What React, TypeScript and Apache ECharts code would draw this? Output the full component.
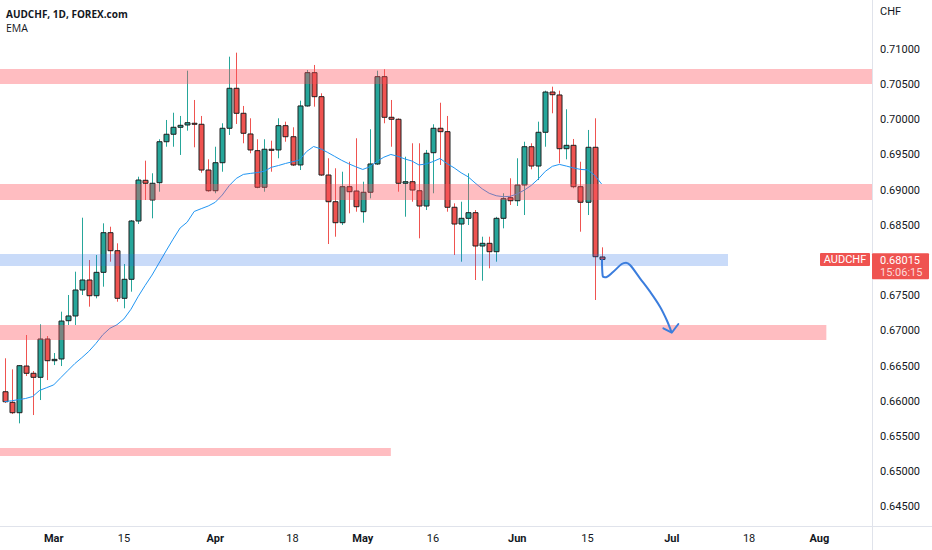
import React, { useEffect, useRef } from 'react';
import * as echarts from 'echarts';

// ---------- data ----------
const START_DATE = '2022-02-18';
const CATEGORY_COUNT = 124;

function weekdays(start: string, n: number): string[] {
  const out: string[] = [];
  const d = new Date(start + 'T00:00:00Z');
  while (out.length < n) {
    const wd = d.getUTCDay();
    if (wd !== 0 && wd !== 6) out.push(d.toISOString().slice(0, 10));
    d.setUTCDate(d.getUTCDate() + 1);
  }
  return out;
}
const dates = weekdays(START_DATE, CATEGORY_COUNT);

const xTickLabels: [string, string, boolean][] = [
  ['2022-03-01', 'Mar', true],
  ['2022-03-15', '15', false],
  ['2022-04-01', 'Apr', true],
  ['2022-04-18', '18', false],
  ['2022-05-02', 'May', true],
  ['2022-05-16', '16', false],
  ['2022-06-01', 'Jun', true],
  ['2022-06-15', '15', false],
  ['2022-07-01', 'Jul', true],
  ['2022-07-18', '18', false],
  ['2022-08-01', 'Aug', true],
];

const yTicks = [0.645, 0.65, 0.655, 0.66, 0.665, 0.67, 0.675, 0.685, 0.69, 0.695, 0.7, 0.705, 0.71];
const Y_MIN = 0.64229;
const Y_MAX = 0.717;

// [open, high, low, close]
const ohlc: number[][] = [
  [0.66136, 0.66611, 0.65976, 0.65994],
  [0.65986, 0.66454, 0.65819, 0.65838],
  [0.65838, 0.66515, 0.65687, 0.66506],
  [0.66501, 0.66942, 0.66359, 0.66398],
  [0.66398, 0.6643, 0.65805, 0.66341],
  [0.66341, 0.67094, 0.66018, 0.66885],
  [0.66885, 0.66927, 0.66302, 0.66577],
  [0.66577, 0.66686, 0.66515, 0.66596],
  [0.66601, 0.67273, 0.66501, 0.6714],
  [0.67145, 0.6751, 0.67084, 0.67212],
  [0.67212, 0.67841, 0.67084, 0.67581],
  [0.67581, 0.68608, 0.6751, 0.67723],
  [0.67723, 0.68007, 0.67344, 0.675],
  [0.675, 0.68078, 0.67463, 0.67832],
  [0.67832, 0.68528, 0.67628, 0.68395],
  [0.68395, 0.6848, 0.67983, 0.68139],
  [0.68139, 0.68244, 0.67415, 0.67463],
  [0.67463, 0.6795, 0.67321, 0.67733],
  [0.67733, 0.68575, 0.67557, 0.68561],
  [0.68561, 0.6919, 0.68518, 0.69143],
  [0.69139, 0.69418, 0.68859, 0.69097],
  [0.68859, 0.69239, 0.68599, 0.69097],
  [0.69105, 0.69722, 0.68977, 0.69687],
  [0.69687, 0.69996, 0.69616, 0.69793],
  [0.69793, 0.70099, 0.69616, 0.69892],
  [0.69892, 0.70053, 0.69499, 0.6992],
  [0.69925, 0.70696, 0.69844, 0.69957],
  [0.69949, 0.7028, 0.69608, 0.69935],
  [0.69935, 0.70053, 0.69247, 0.69285],
  [0.69285, 0.69437, 0.68977, 0.68991],
  [0.68991, 0.69616, 0.68955, 0.69389],
  [0.69389, 0.69949, 0.69261, 0.69878],
  [0.69878, 0.70895, 0.69783, 0.70446],
  [0.70446, 0.70952, 0.69939, 0.70091],
  [0.70091, 0.70195, 0.69665, 0.69807],
  [0.69797, 0.7002, 0.69523, 0.6957],
  [0.6956, 0.69722, 0.69026, 0.6904],
  [0.6904, 0.69722, 0.68977, 0.6958],
  [0.6958, 0.69702, 0.69261, 0.69565],
  [0.6957, 0.7002, 0.69452, 0.69915],
  [0.69915, 0.69972, 0.69687, 0.69758],
  [0.69758, 0.69892, 0.69342, 0.69357],
  [0.69357, 0.7027, 0.69285, 0.70195],
  [0.70195, 0.70706, 0.70185, 0.70668],
  [0.70668, 0.70777, 0.70185, 0.70327],
  [0.70327, 0.70375, 0.692, 0.69214],
  [0.69214, 0.69452, 0.68234, 0.68835],
  [0.68835, 0.6931, 0.68338, 0.68537],
  [0.68537, 0.69261, 0.68504, 0.69048],
  [0.69048, 0.69403, 0.6867, 0.68977],
  [0.68987, 0.69736, 0.68693, 0.68764],
  [0.68693, 0.69119, 0.68537, 0.68969],
  [0.68969, 0.69864, 0.68883, 0.69371],
  [0.69371, 0.70696, 0.69357, 0.70611],
  [0.70611, 0.70716, 0.69949, 0.70034],
  [0.70034, 0.7028, 0.69616, 0.70006],
  [0.70006, 0.7002, 0.68977, 0.69097],
  [0.69097, 0.69474, 0.68622, 0.69119],
  [0.69119, 0.69665, 0.68835, 0.69001],
  [0.68991, 0.69665, 0.68315, 0.68774],
  [0.68774, 0.6957, 0.68717, 0.69523],
  [0.69531, 0.69935, 0.68955, 0.69878],
  [0.69878, 0.70241, 0.69357, 0.6983],
  [0.6983, 0.70053, 0.68693, 0.68756],
  [0.68756, 0.68812, 0.68078, 0.68518],
  [0.68518, 0.68835, 0.67983, 0.68599],
  [0.68599, 0.69239, 0.68504, 0.68679],
  [0.68679, 0.68717, 0.67723, 0.68206],
  [0.68206, 0.68338, 0.67713, 0.68244],
  [0.68244, 0.68338, 0.67889, 0.68125],
  [0.68125, 0.6862, 0.67983, 0.68599],
  [0.68599, 0.68955, 0.68457, 0.68878],
  [0.68892, 0.69168, 0.68788, 0.68849],
  [0.68849, 0.69452, 0.68774, 0.69072],
  [0.69072, 0.69687, 0.68646, 0.69616],
  [0.69616, 0.69665, 0.69295, 0.69342],
  [0.69342, 0.69972, 0.69143, 0.69821],
  [0.69821, 0.70412, 0.69616, 0.70393],
  [0.70393, 0.70469, 0.70091, 0.70355],
  [0.70351, 0.70412, 0.69381, 0.69588],
  [0.69588, 0.70148, 0.69437, 0.69636],
  [0.69636, 0.69726, 0.69026, 0.69048],
  [0.69048, 0.69403, 0.68409, 0.68827],
  [0.68827, 0.69854, 0.68646, 0.69608],
  [0.69608, 0.7002, 0.67439, 0.68054],
  [0.6805, 0.68187, 0.68007, 0.68015],
];

const ema: number[] = [
  0.65996, 0.66007, 0.66024, 0.6604, 0.66068, 0.66155, 0.66194, 0.66233, 0.66335, 0.66435,
  0.66535, 0.66619, 0.66709, 0.6682, 0.66946, 0.67037, 0.67087, 0.6717, 0.67307, 0.67484,
  0.67643, 0.67793, 0.67964, 0.68136, 0.68303, 0.68462, 0.68544, 0.68696, 0.68736, 0.68774,
  0.68827, 0.6893, 0.69065, 0.69166, 0.69223, 0.69237, 0.69249, 0.69268, 0.69324, 0.69349,
  0.69378, 0.69403, 0.69428, 0.69547, 0.69619, 0.69587, 0.69535, 0.69479, 0.69423, 0.69374,
  0.69332, 0.69293, 0.69331, 0.69406, 0.69467, 0.69506, 0.6948, 0.69442, 0.69413, 0.69357,
  0.69371, 0.69405, 0.69449, 0.69376, 0.69317, 0.69246, 0.69189, 0.69101, 0.69018, 0.68955,
  0.6892, 0.68906, 0.68912, 0.68946, 0.69, 0.69067, 0.69159, 0.69267, 0.69338, 0.69365,
  0.69341, 0.69315, 0.69294, 0.69287, 0.69214, 0.69087,
];

// zones: end date (null = to the price axis), low, high, kind
const zones: { end: string | null; low: number; high: number; kind: 'supply' | 'pivot' }[] = [
  { end: null, low: 0.70507, high: 0.7072, kind: 'supply' },
  { end: null, low: 0.68859, high: 0.69087, kind: 'supply' },
  { end: '2022-07-13', low: 0.67922, high: 0.68092, kind: 'pivot' },
  { end: '2022-08-02', low: 0.66871, high: 0.67084, kind: 'supply' },
  { end: '2022-05-06', low: 0.65223, high: 0.65337, kind: 'supply' },
];

// projected path, x in bar-index units
const arrowPath: number[][] = [
  [85.06, 0.68017],
  [85.16, 0.6778],
  [85.49, 0.67761],
  [86.67, 0.67841],
  [87.87, 0.6795],
  [88.48, 0.67969],
  [89.05, 0.67936],
  [90.47, 0.67747],
  [91.9, 0.67557],
  [93.32, 0.67344],
  [94.27, 0.67155],
  [94.99, 0.66974],
];
const arrowHead: number[][] = [
  [93.8, 0.67037],
  [94.99, 0.66974],
  [95.93, 0.67098],
];

const SYMBOL_TITLE = 'AUDCHF, 1D, FOREX.com';
const INDICATOR = 'EMA';
const CURRENCY = 'CHF';
const SYMBOL = 'AUDCHF';
const COUNTDOWN = '15:06:15';

// ---------- styles ----------
const TEAL = '#26a69a';
const RED = '#ef5350';
const BORDER = '#1f1f1f';
const TEXT = '#131722';
const AXIS = '#e0e3eb';
const ZONE_FILL: Record<string, string> = {
  supply: 'rgba(255, 82, 92, 0.38)',
  pivot: 'rgba(41, 110, 230, 0.25)',
};
const FONT = 'Roboto, "Noto Sans", sans-serif';
const TITLE_FONT = '"Open Sans", sans-serif';

export default function App() {
  const ref = useRef<HTMLDivElement>(null);

  useEffect(() => {
    document.body.style.margin = '0';
    if (!ref.current) return;
    const chart = echarts.init(ref.current, undefined, { renderer: 'svg' });

    const labelMap = new Map<string, [string, boolean]>();
    xTickLabels.forEach(([d, t, m]) => labelMap.set(d, [t, m]));

    const candleData = ohlc.map((d, i) => [i, d[0], d[1], d[2], d[3]]);
    const zoneData = zones.map((z) => [
      z.end ? dates.indexOf(z.end) : CATEGORY_COUNT - 1,
      z.low,
      z.high,
      z.end ? 0 : 1,
      z.kind === 'supply' ? 0 : 1,
    ]);

    const option: any = {
      animation: false,
      backgroundColor: '#ffffff',
      grid: { left: 1, right: 60, top: 0, bottom: 24 },
      xAxis: [
        {
          type: 'category',
          data: dates,
          boundaryGap: true,
          axisLine: { show: false },
          axisTick: { show: false },
          splitLine: { show: false },
          axisLabel: {
            interval: (_i: number, v: string) => labelMap.has(v),
            formatter: (v: string) => {
              const t = labelMap.get(v);
              if (!t) return '';
              return t[1] ? '{m|' + t[0] + '}' : t[0];
            },
            margin: 7,
            color: TEXT,
            fontSize: 11,
            fontFamily: FONT,
            rich: { m: { fontWeight: 'bold', fontSize: 11, color: TEXT, fontFamily: FONT } },
          },
        },
        { type: 'value', min: -0.5, max: CATEGORY_COUNT - 0.5, show: false },
      ],
      yAxis: {
        type: 'value',
        position: 'right',
        min: Y_MIN,
        max: Y_MAX,
        splitLine: { show: false },
        axisLine: { show: false },
        axisTick: { show: false },
        axisLabel: {
          customValues: yTicks,
          formatter: (v: number) => v.toFixed(5),
          margin: 8,
          color: TEXT,
          fontSize: 11,
          fontFamily: FONT,
        },
      },
      series: [
        {
          type: 'custom',
          name: 'candles',
          xAxisIndex: 0,
          yAxisIndex: 0,
          z: 2,
          encode: { x: 0, y: [1, 2, 3, 4] },
          data: candleData,
          renderItem: (_p: any, api: any) => {
            const i = api.value(0);
            const o = api.value(1);
            const h = api.value(2);
            const l = api.value(3);
            const c = api.value(4);
            const up = c >= o;
            const pO = api.coord([i, o]);
            const yC = api.coord([i, c])[1];
            const yH = api.coord([i, h])[1];
            const yL = api.coord([i, l])[1];
            const bw = Math.max(3, Math.round(api.size([1, 0])[0] * 0.72));
            const xc = Math.round(pO[0]) + 0.5;
            const top = Math.min(pO[1], yC);
            const bot = Math.max(pO[1], yC);
            const col = up ? TEAL : RED;
            return {
              type: 'group',
              children: [
                { type: 'line', shape: { x1: xc, y1: yH, x2: xc, y2: yL }, style: { stroke: col, lineWidth: 1 } },
                {
                  type: 'rect',
                  shape: { x: xc - bw / 2, y: top, width: bw, height: Math.max(bot - top, 1) },
                  style: { fill: col, stroke: BORDER, lineWidth: 1 },
                },
              ],
            };
          },
        },
        {
          type: 'line',
          name: 'EMA',
          xAxisIndex: 0,
          yAxisIndex: 0,
          z: 3,
          data: ema,
          symbol: 'none',
          lineStyle: { color: '#2196f3', width: 1 },
        },
        {
          type: 'custom',
          name: 'zones',
          xAxisIndex: 0,
          yAxisIndex: 0,
          z: 4,
          encode: { x: 0, y: [1, 2] },
          data: zoneData,
          renderItem: (params: any, api: any) => {
            const cs = params.coordSys;
            const endIdx = api.value(0);
            const yTop = api.coord([endIdx, api.value(2)])[1];
            const yBot = api.coord([endIdx, api.value(1)])[1];
            const full = api.value(3) === 1;
            const xRight = full ? cs.x + cs.width : api.coord([endIdx, api.value(1)])[0];
            const fill = api.value(4) === 0 ? ZONE_FILL.supply : ZONE_FILL.pivot;
            return {
              type: 'rect',
              shape: { x: cs.x - 1, y: yTop, width: xRight - cs.x + 1, height: yBot - yTop },
              style: { fill },
            };
          },
        },
        {
          type: 'line',
          name: 'projection',
          xAxisIndex: 1,
          yAxisIndex: 0,
          z: 5,
          data: arrowPath,
          smooth: 0.35,
          symbol: 'none',
          lineStyle: { color: '#3b7ddd', width: 2 },
        },
        {
          type: 'line',
          name: 'projectionHead',
          xAxisIndex: 1,
          yAxisIndex: 0,
          z: 5,
          data: arrowHead,
          symbol: 'none',
          lineStyle: { color: '#3b7ddd', width: 2, join: 'round', cap: 'round' },
        },
      ],
    };

    chart.setOption(option);

    const lastClose = ohlc[ohlc.length - 1][3];
    const yPx = chart.convertToPixel({ yAxisIndex: 0 }, lastClose) as number;
    const axisX = 932 - 60;

    chart.setOption({
      graphic: [
        {
          type: 'text',
          x: 6,
          y: 14,
          z: 100,
          style: { text: SYMBOL_TITLE, fill: TEXT, fontSize: 10, fontWeight: 'bold', fontFamily: TITLE_FONT, verticalAlign: 'middle' },
        },
        {
          type: 'text',
          x: 6,
          y: 28,
          z: 100,
          style: { text: INDICATOR, fill: TEXT, fontSize: 10.5, fontFamily: TITLE_FONT, verticalAlign: 'middle' },
        },
        {
          type: 'text',
          x: axisX + 8,
          y: 11,
          z: 100,
          style: { text: CURRENCY, fill: TEXT, fontSize: 11, fontFamily: FONT, verticalAlign: 'middle' },
        },
        { type: 'line', z: 50, shape: { x1: axisX + 0.5, y1: 0, x2: axisX + 0.5, y2: 550 }, style: { stroke: AXIS, lineWidth: 1 } },
        { type: 'line', z: 50, shape: { x1: 0, y1: 526.5, x2: 932, y2: 526.5 }, style: { stroke: AXIS, lineWidth: 1 } },
        {
          type: 'rect',
          z: 100,
          shape: { x: axisX - 52, y: yPx - 6.5, width: 50, height: 13, r: 1 },
          style: { fill: RED },
        },
        {
          type: 'text',
          z: 101,
          x: axisX - 27,
          y: yPx,
          style: { text: SYMBOL, fill: '#ffffff', fontSize: 11, fontFamily: FONT, align: 'center', verticalAlign: 'middle' },
        },
        {
          type: 'rect',
          z: 100,
          shape: { x: axisX, y: yPx - 6.3, width: 57, height: 26, r: 1 },
          style: { fill: RED },
        },
        {
          type: 'text',
          z: 101,
          x: axisX + 8,
          y: yPx + 1.5,
          style: { text: lastClose.toFixed(5), fill: '#ffffff', fontSize: 11, fontFamily: FONT, verticalAlign: 'middle' },
        },
        {
          type: 'text',
          z: 101,
          x: axisX + 8,
          y: yPx + 12.8,
          style: { text: COUNTDOWN, fill: '#fbdada', fontSize: 11, fontFamily: FONT, verticalAlign: 'middle' },
        },
      ],
    });

    return () => chart.dispose();
  }, []);

  return <div ref={ref} style={{ width: 932, height: 550 }} />;
}
